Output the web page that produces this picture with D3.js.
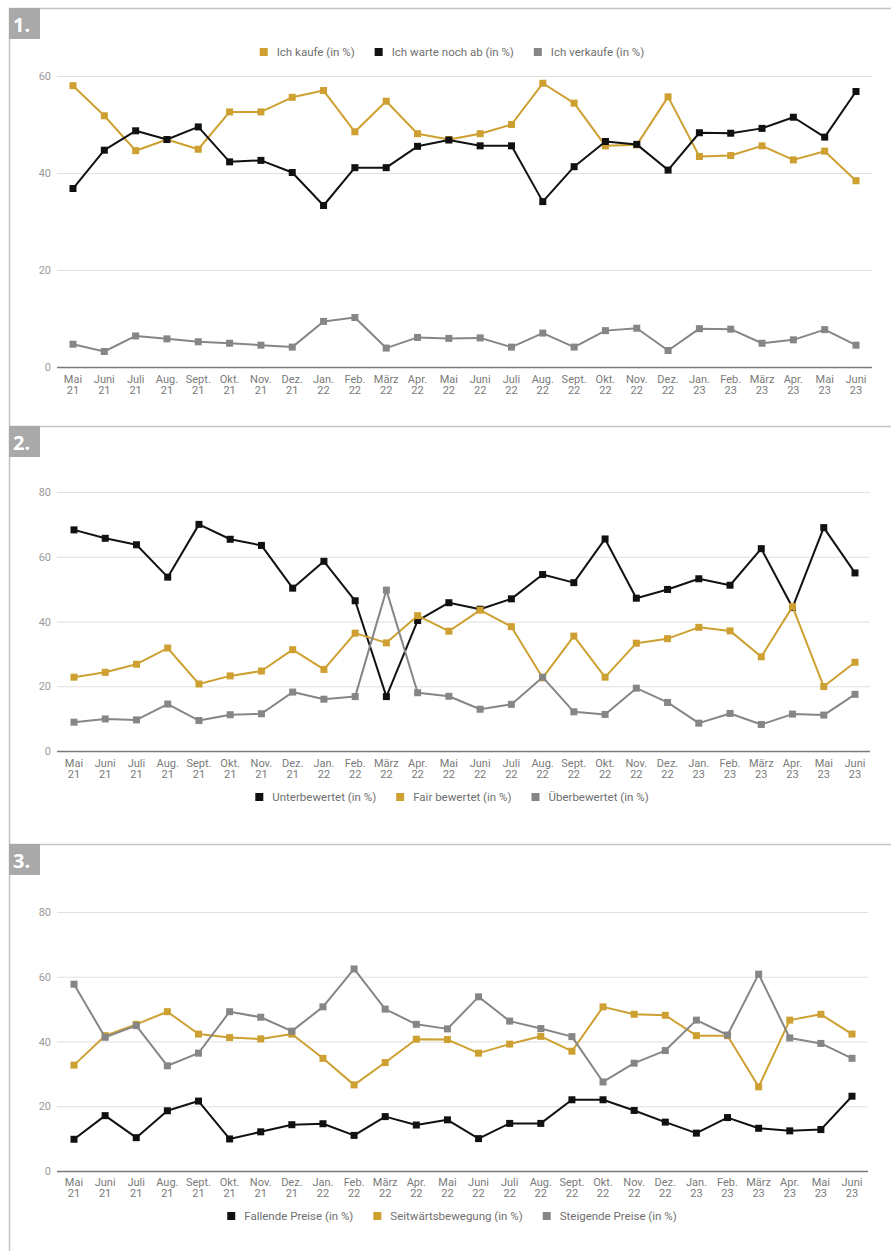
<!DOCTYPE html>
<html>
<head>
<meta charset="utf-8">
<script src="https://cdn.jsdelivr.net/npm/d3@7"></script>
<style>
  html, body { margin: 0; padding: 0; background: #fff; }
  svg { display: block; font-family: Roboto, "Noto Sans", sans-serif; }
</style>
</head>
<body>
<svg id="chart" width="891" height="1251"></svg>
<script>
// Survey months (label line 1 = month, line 2 = year)
const months = ["Mai 21","Juni 21","Juli 21","Aug. 21","Sept. 21","Okt. 21","Nov. 21","Dez. 21",
  "Jan. 22","Feb. 22","März 22","Apr. 22","Mai 22","Juni 22","Juli 22","Aug. 22","Sept. 22","Okt. 22","Nov. 22","Dez. 22",
  "Jan. 23","Feb. 23","März 23","Apr. 23","Mai 23","Juni 23"];

// 1. Kaufabsicht
const ichKaufe = [58, 51.8, 44.6, 46.9, 44.9, 52.6, 52.6, 55.6, 57.0, 48.5, 54.8, 48.1, 46.9,
  48.1, 50.0, 58.5, 54.4, 45.6, 45.8, 55.7, 43.4, 43.6, 45.6, 42.7, 44.5, 38.4];
const ichWarte = [36.8, 44.7, 48.7, 46.9, 49.5, 42.3, 42.6, 40.1, 33.3, 41.1, 41.1, 45.5, 46.8,
  45.6, 45.6, 34.1, 41.3, 46.5, 45.9, 40.6, 48.3, 48.2, 49.2, 51.5, 47.4, 56.8];
const ichVerkaufe = [4.7, 3.2, 6.4, 5.8, 5.2, 4.9, 4.5, 4.1, 9.4, 10.2, 3.9, 6.1, 5.9,
  6.0, 4.1, 7.0, 4.1, 7.5, 8.0, 3.4, 7.9, 7.8, 4.9, 5.6, 7.7, 4.5];

// 2. Bewertung
const unterbewertet = [68.3, 65.7, 63.7, 53.7, 70.0, 65.4, 63.5, 50.3, 58.6, 46.4, 16.8, 40.3, 45.8,
  43.8, 47.0, 54.5, 52.0, 65.5, 47.2, 49.9, 53.2, 51.2, 62.5, 44.3, 69.0, 55.0];
const fairBewertet = [22.8, 24.3, 26.8, 31.8, 20.7, 23.2, 24.7, 31.3, 25.2, 36.4, 33.4, 41.8, 37.0,
  43.5, 38.4, 22.6, 35.5, 22.8, 33.3, 34.7, 38.2, 37.1, 29.1, 44.6, 19.9, 27.4];
const ueberbewertet = [8.9, 9.9, 9.6, 14.5, 9.4, 11.2, 11.5, 18.2, 16.0, 16.8, 49.7, 18.0, 16.9,
  12.9, 14.4, 22.8, 12.1, 11.3, 19.4, 15.0, 8.6, 11.6, 8.2, 11.4, 11.1, 17.5];

// 3. Preiserwartung
const fallendePreise = [9.8, 17.1, 10.3, 18.6, 21.6, 9.9, 12.1, 14.3, 14.6, 11.0, 16.8, 14.2, 15.8,
  10.0, 14.7, 14.7, 22.0, 22.0, 18.7, 15.1, 11.7, 16.5, 13.2, 12.4, 12.8, 23.1];
const seitwaerts = [32.7, 41.8, 45.3, 49.2, 42.3, 41.2, 40.8, 42.3, 34.8, 26.6, 33.5, 40.7, 40.6,
  36.4, 39.2, 41.6, 37.0, 50.7, 48.4, 48.1, 41.8, 41.8, 26.0, 46.6, 48.4, 42.3];
const steigendePreise = [57.7, 41.3, 44.9, 32.5, 36.4, 49.2, 47.5, 43.2, 50.7, 62.4, 50.0, 45.3, 43.9,
  53.8, 46.3, 44.0, 41.5, 27.5, 33.3, 37.2, 46.6, 42.0, 60.8, 41.1, 39.4, 34.8];

// Axis ticks
const ticks1 = [0, 20, 40, 60];
const ticks23 = [0, 20, 40, 60, 80];

const GOLD = "#cda031", BLACK = "#111111", GRAY = "#868686";

const panels = [
  { label: "1.", top: 8, yMax: 60, ticks: ticks1, y0: 367, y1: 76,
    gridX: [57, 872], ptX: [73, 856], labelY: 379, legendY: 52,
    series: [
      { name: "Ich kaufe (in %)", values: ichKaufe, color: GOLD },
      { name: "Ich warte noch ab (in %)", values: ichWarte, color: BLACK },
      { name: "Ich verkaufe (in %)", values: ichVerkaufe, color: GRAY }
    ] },
  { label: "2.", top: 426, yMax: 80, ticks: ticks23, y0: 751, y1: 492,
    gridX: [57, 870], ptX: [74, 855], labelY: 763, legendY: 797,
    series: [
      { name: "Unterbewertet (in %)", values: unterbewertet, color: BLACK },
      { name: "Fair bewertet (in %)", values: fairBewertet, color: GOLD },
      { name: "Überbewertet (in %)", values: ueberbewertet, color: GRAY }
    ] },
  { label: "3.", top: 844, yMax: 80, ticks: ticks23, y0: 1171, y1: 912,
    gridX: [57, 868], ptX: [74, 852], labelY: 1182, legendY: 1216,
    series: [
      { name: "Fallende Preise (in %)", values: fallendePreise, color: BLACK },
      { name: "Seitwärtsbewegung (in %)", values: seitwaerts, color: GOLD },
      { name: "Steigende Preise (in %)", values: steigendePreise, color: GRAY }
    ] }
];

const svg = d3.select("#chart");

// Outer frame: left rule running down the page
svg.append("line").attr("x1", 9.5).attr("x2", 9.5).attr("y1", 8).attr("y2", 1251)
  .attr("stroke", "#c4c4c4").attr("stroke-width", 1.5);

panels.forEach(p => {
  const g = svg.append("g");

  // Panel separator and number badge
  g.append("line").attr("x1", 9).attr("x2", 891).attr("y1", p.top + 0.5).attr("y2", p.top + 0.5)
    .attr("stroke", "#c4c4c4").attr("stroke-width", 1.5);
  g.append("rect").attr("x", 9).attr("y", p.top).attr("width", 31).attr("height", 31).attr("fill", "#a9a9a9");
  g.append("text").attr("x", 13).attr("y", p.top + 24).text(p.label)
    .attr("fill", "#fff").attr("font-size", 20).attr("font-weight", 700)
    .attr("font-family", "'Open Sans', Roboto, sans-serif");

  const x = d3.scalePoint().domain(months).range(p.ptX);
  const y = d3.scaleLinear().domain([0, p.yMax]).range([p.y0, p.y1]);

  // Horizontal gridlines with value labels
  const yAxis = d3.axisLeft(y).tickValues(p.ticks).tickSize(-(p.gridX[1] - p.gridX[0])).tickPadding(6);
  const ya = g.append("g").attr("transform", `translate(${p.gridX[0]},0)`).call(yAxis);
  ya.select(".domain").remove();
  ya.selectAll(".tick line").attr("stroke", d => d === 0 ? "#7a7a7a" : "#e0e0e0")
    .attr("stroke-width", d => d === 0 ? 1.5 : 1.2);
  ya.selectAll(".tick text").attr("fill", "#9a9a9a").attr("font-size", 11)
    .attr("font-family", "Roboto, sans-serif");

  // Month labels (two lines)
  const xa = g.append("g");
  months.forEach(m => {
    const parts = m.split(" ");
    const t = xa.append("text").attr("x", x(m)).attr("y", p.labelY + 4)
      .attr("text-anchor", "middle").attr("fill", "#7a7a7a").attr("font-size", 11);
    t.append("tspan").attr("x", x(m)).text(parts[0]);
    t.append("tspan").attr("x", x(m)).attr("dy", 11).text(parts[1]);
  });

  // Series lines and square markers
  const line = d3.line().x((d, i) => x(months[i])).y(d => y(d));
  p.series.forEach(s => {
    g.append("path").datum(s.values).attr("d", line)
      .attr("fill", "none").attr("stroke", s.color).attr("stroke-width", 2)
      .attr("stroke-linejoin", "round");
    g.selectAll(null).data(s.values).enter().append("rect")
      .attr("x", (d, i) => x(months[i]) - 3.5).attr("y", d => y(d) - 3.5)
      .attr("width", 7).attr("height", 7).attr("fill", s.color);
  });

  // Legend, centred
  const lg = g.append("g");
  let cx = 0;
  const gap = 20;
  p.series.forEach(s => {
    const it = lg.append("g").attr("transform", `translate(${cx},0)`);
    it.append("rect").attr("x", 0).attr("y", p.legendY - 4).attr("width", 8).attr("height", 8).attr("fill", s.color);
    const t = it.append("text").attr("x", 17).attr("y", p.legendY + 4)
      .attr("fill", "#6f6f6f").attr("font-size", 11.5).text(s.name);
    cx += 17 + t.node().getComputedTextLength() + gap;
  });
  const total = cx - gap;
  lg.attr("transform", `translate(${452 - total / 2},0)`);
});
</script>
</body>
</html>
